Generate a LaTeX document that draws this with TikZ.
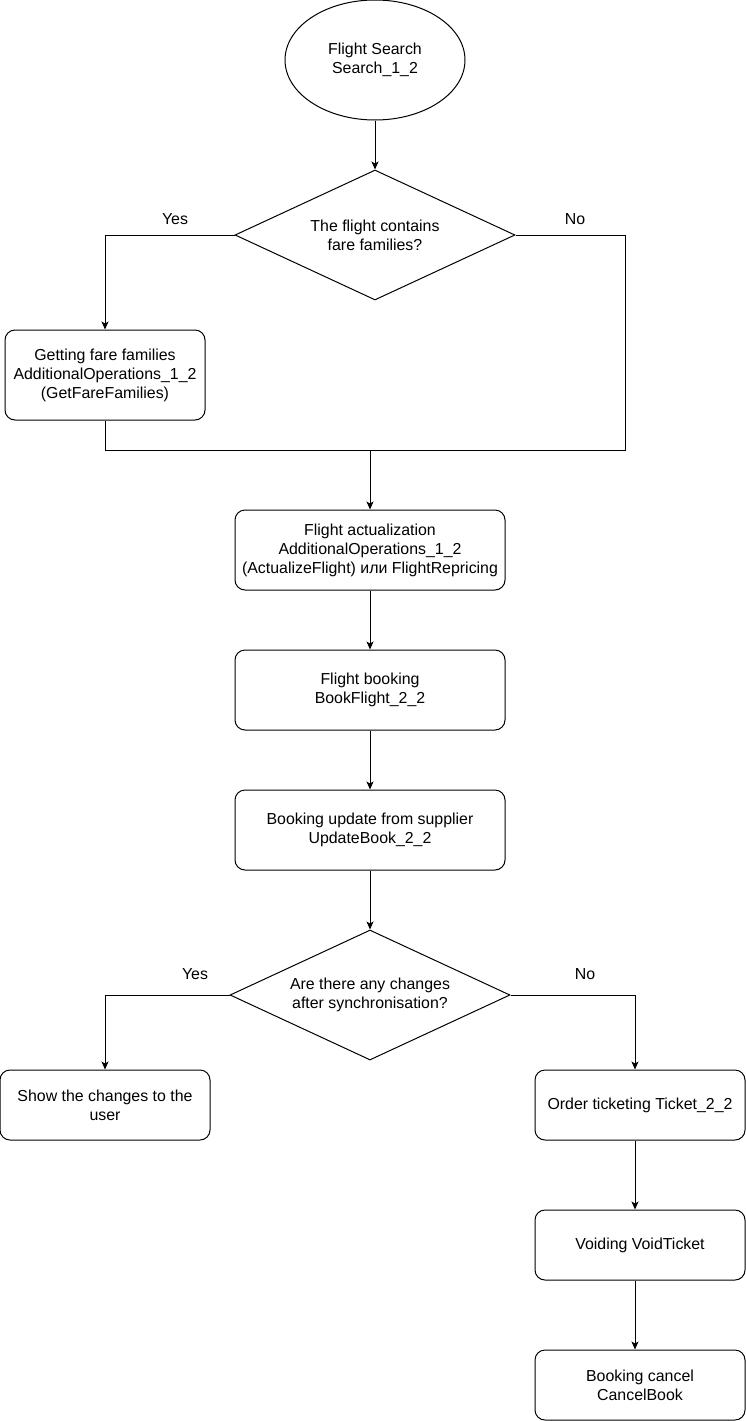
\documentclass[tikz,border=0pt]{standalone}
\usepackage{fontspec}
\setmainfont{Liberation Sans}
\usetikzlibrary{shapes.geometric,arrows.meta}
\begin{document}
\begin{tikzpicture}[x=1pt,y=-1pt,line width=1pt,
  every node/.style={font=\fontsize{15.9}{19}\selectfont, align=center, inner sep=0pt},
  box/.style={draw, rounded corners=10pt},
  dec/.style={draw, shape=diamond, aspect=2.15, minimum width=280pt, minimum height=130pt},
  arr/.style={-{Stealth[length=8pt,width=7pt,inset=2pt]}},
  lbl/.style={font=\fontsize{15.9}{19}\selectfont}]
\useasboundingbox (0,0) rectangle (746,1421);
\node[draw, ellipse, minimum width=180pt, minimum height=120pt] (e) at (375,60) {Flight Search\\Search\_1\_2};
\node[dec] (d1) at (375,235) {The flight contains\\fare families?};
\node[box, minimum width=200pt, minimum height=90pt] (b1) at (105,375) {Getting fare families\\AdditionalOperations\_1\_2\\(GetFareFamilies)};
\node[box, minimum width=270pt, minimum height=80pt] (b2) at (370,550) {Flight actualization\\AdditionalOperations\_1\_2\\(ActualizeFlight) или FlightRepricing};
\node[box, minimum width=270pt, minimum height=80pt] (b3) at (370,690) {Flight booking\\BookFlight\_2\_2};
\node[box, minimum width=270pt, minimum height=80pt] (b4) at (370,830) {Booking update from supplier\\UpdateBook\_2\_2};
\node[dec] (d2) at (370,995) {Are there any changes\\after synchronisation?};
\node[box, minimum width=210pt, minimum height=70pt] (b5) at (105,1105) {Show the changes to the\\user};
\node[box, minimum width=210pt, minimum height=70pt] (b6) at (640,1105) {Order ticketing Ticket\_2\_2};
\node[box, minimum width=210pt, minimum height=70pt] (b7) at (640,1245) {Voiding VoidTicket};
\node[box, minimum width=210pt, minimum height=70pt] (b8) at (640,1385) {Booking cancel\\CancelBook};
\node[lbl] (y1) at (175,219) {Yes};
\node[lbl] (n1) at (575,219) {No};
\node[lbl] (y2) at (195,974) {Yes};
\node[lbl] (n2) at (585,974) {No};
\coordinate (m) at (370,450);
\coordinate (mr) at (625,450);
\coordinate (ml) at (105,450);
\draw[arr] (e.south) -- (d1.north);
\draw[arr] (d1.west) -| (b1.north);
\draw (d1.east) -| (mr) -- (ml) -- (b1.south);
\draw[arr] (m) -- (b2.north);
\draw[arr] (b2.south) -- (b3.north);
\draw[arr] (b3.south) -- (b4.north);
\draw[arr] (b4.south) -- (d2.north);
\draw[arr] (d2.west) -| (b5.north);
\draw[arr] (d2.east) -| ([xshift=-5pt]b6.north);
\draw[arr] ([xshift=-5pt]b6.south) -- ([xshift=-5pt]b7.north);
\draw[arr] ([xshift=-5pt]b7.south) -- ([xshift=-5pt]b8.north);
\end{tikzpicture}
\end{document}
